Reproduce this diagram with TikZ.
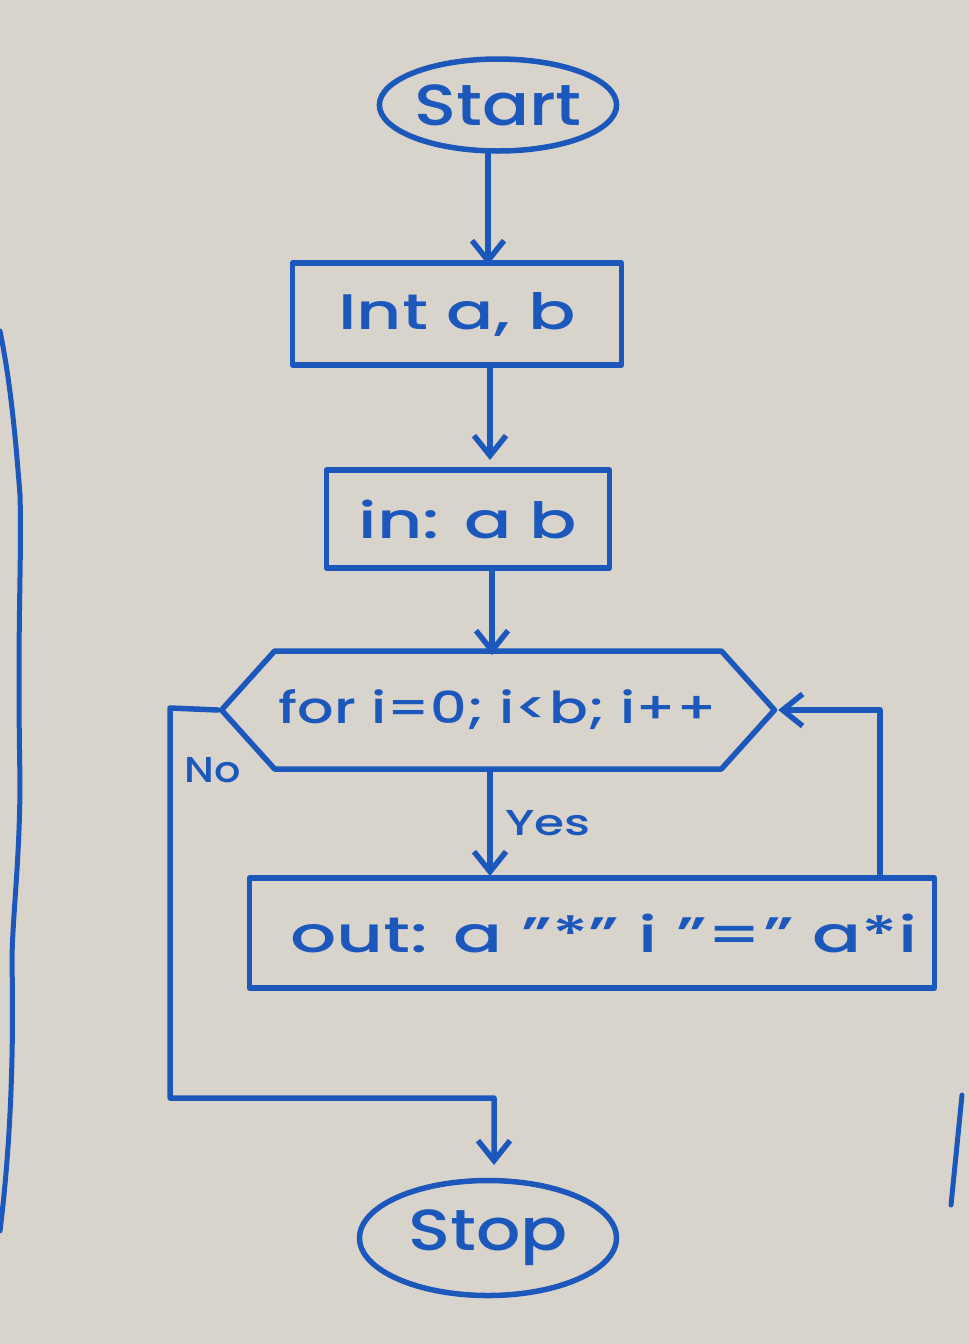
\documentclass[tikz,border=0pt]{standalone}
\usepackage{fontspec}
\setmainfont{Poppins Medium}
\usetikzlibrary{shapes.geometric,shapes.symbols,arrows.meta,calc}
\definecolor{paper}{RGB}{216,212,204}
\definecolor{ink}{RGB}{28,88,188}
\newcommand\hw[2]{\scalebox{#1}[1]{#2}}
\begin{document}
\begin{tikzpicture}[x=1pt,y=-1pt,
  every node/.style={text=ink},
  pen/.style={draw=ink,line width=5.5pt,line cap=round,line join=round},
  arr/.style={pen,-{Straight Barb[length=20pt,width=32pt,line width=5.5pt]}},
  ell/.style={pen,ellipse,inner sep=0pt,font=\fontsize{58}{62}\selectfont},
  box/.style={pen,rectangle,inner sep=0pt,font=\fontsize{50}{54}\selectfont},
  hexa/.style={pen,signal,signal to=east and west,signal pointer angle=96,inner sep=0pt,font=\fontsize{44}{48}\selectfont},
  lbl/.style={font=\fontsize{36}{40}\selectfont}]
\useasboundingbox (0,0) rectangle (969,1344);
\fill[paper] (0,0) rectangle (969,1344);
% margin strokes
\draw[pen,line width=5pt] (0,331) .. controls (10,380) and (15,430) .. (20,495) .. controls (22,560) and (17,620) .. (20,780) .. controls (20,860) and (12,920) .. (12,963) .. controls (14,1060) and (10,1150) .. (0,1231);
\draw[pen,line width=5pt] (962,1095) -- (951,1205);
% nodes
\node[ell,minimum width=220,minimum height=92] (start) at (498,105) {\hw{1.2}{Start}};
\node[box,minimum width=329,minimum height=102] (int) at (457,314) {\hw{1.4}{Int a, b}};
\node[box,minimum width=283,minimum height=98] (in) at (468,519) {\hw{1.4}{in: a b}};
\node[hexa,minimum width=553,minimum height=118] (hex) at (498,710) {\hw{1.3}{for i=0; i<b; i++}};
\node[box,minimum width=685,minimum height=110] (out) at (592,933) {\hspace*{24pt}\hw{1.45}{out: a "*" i "=" a*i}};
\node[ell,minimum width=257,minimum height=115] (stop) at (488,1238) {\hw{1.2}{Stop}};
\node[lbl] (no) at (213,770) {\hw{1.15}{No}};
\node[lbl] (yes) at (548,823) {\hw{1.35}{Yes}};
% helper coordinates
\coordinate (c1) at (488,265);
\coordinate (c2) at (490,460);
\coordinate (c3) at (492,655);
\coordinate (c4) at (490,876);
\coordinate (lr) at (880,710);
\coordinate (nl) at (170,708);
\coordinate (nb) at (170,1098);
\coordinate (ns) at (494,1165);
% connectors
\draw[arr] (start.south -| c1) -- (c1);
\draw[arr] (int.south -| c2) -- (c2);
\draw[arr] (in.south -| c3) -- (c3);
\draw[arr] (hex.south -| c4) -- (c4);
\draw[arr] (out.north -| lr) -- (lr) -- (hex.east);
\draw[arr] (hex.west) -- (nl) -- (nb) -| (ns);
\end{tikzpicture}
\end{document}
